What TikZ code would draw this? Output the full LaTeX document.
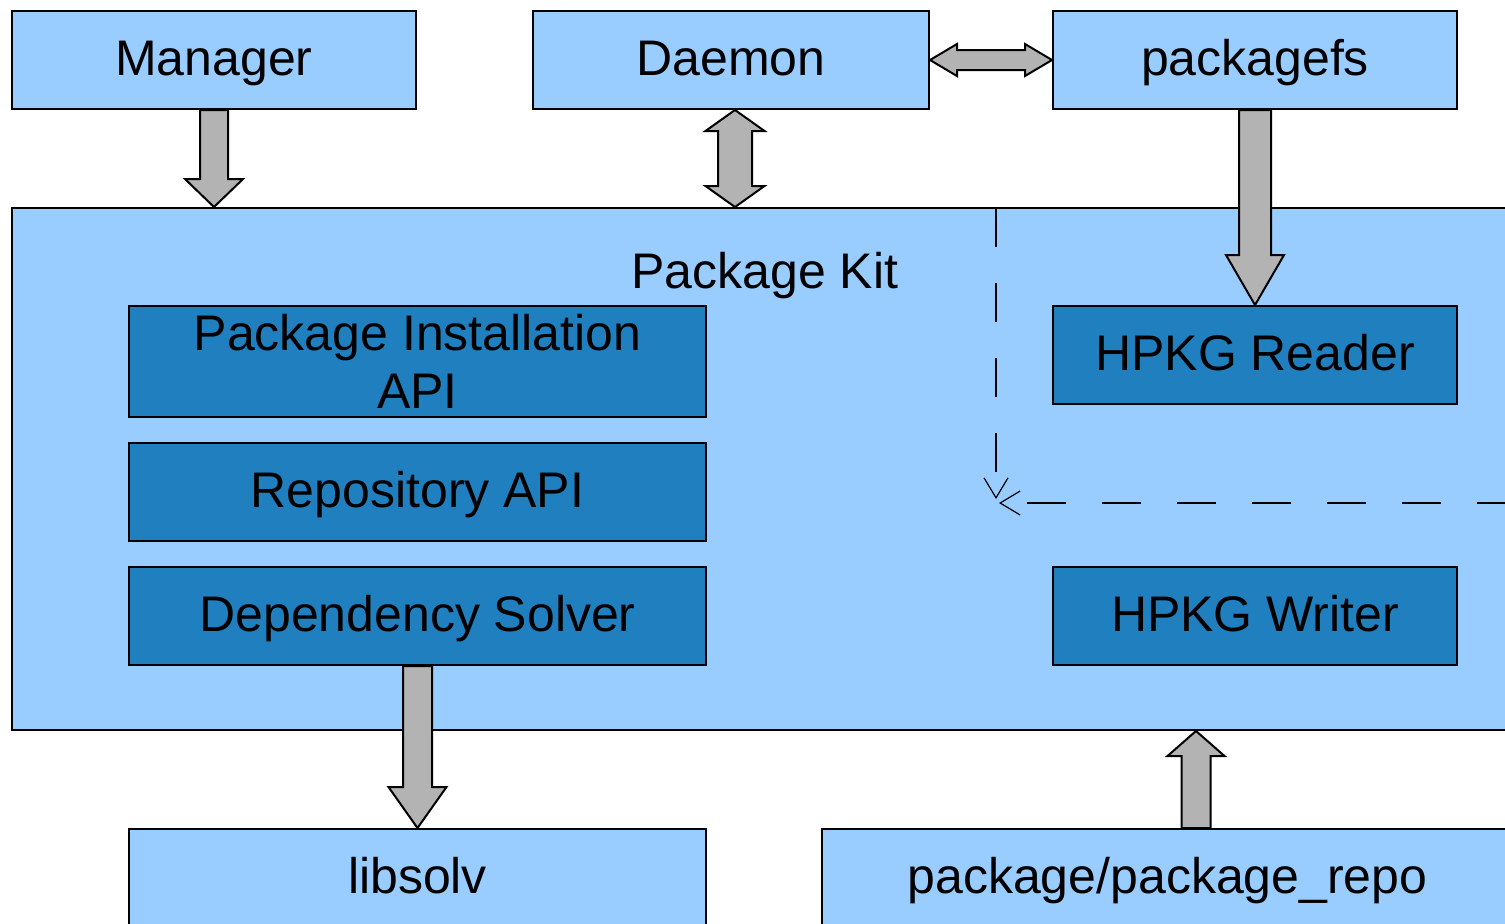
\documentclass[tikz,border=0pt]{standalone}
\usepackage{fontspec}
\setmainfont{Liberation Sans}
\usetikzlibrary{calc,arrows.meta}
\definecolor{lightb}{HTML}{99CCFF}
\definecolor{darkb}{HTML}{1F7FBF}
\definecolor{arrowgray}{HTML}{B3B3B3}
% single block arrow: from, to, shaft half width, head half width, head length
\newcommand\myblockarrow[5]{%
  \coordinate (ba-h) at ($(#2)!#5!(#1)$);
  \draw[blk] ($(#1)!#3!90:(#2)$) -- ($(ba-h)!#3!90:(#2)$) -- ($(ba-h)!#4!90:(#2)$) -- (#2)
    -- ($(ba-h)!#4!-90:(#2)$) -- ($(ba-h)!#3!-90:(#2)$) -- ($(#1)!#3!-90:(#2)$) -- cycle;}
% double block arrow
\newcommand\mydblockarrow[5]{%
  \coordinate (ba-a) at ($(#1)!#5!(#2)$);
  \coordinate (ba-b) at ($(#2)!#5!(#1)$);
  \draw[blk] (#1) -- ($(ba-a)!#4!90:(#2)$) -- ($(ba-a)!#3!90:(#2)$) -- ($(ba-b)!#3!90:(#2)$)
    -- ($(ba-b)!#4!90:(#2)$) -- (#2) -- ($(ba-b)!#4!-90:(#2)$) -- ($(ba-b)!#3!-90:(#2)$)
    -- ($(ba-a)!#3!-90:(#2)$) -- ($(ba-a)!#4!-90:(#2)$) -- cycle;}
\begin{document}
\begin{tikzpicture}[x=0.5pt,y=-0.5pt,
  box/.style={draw=black, line width=1pt, fill=lightb, inner sep=0pt,
    font=\fontsize{25}{28.75}\selectfont, align=center},
  dbox/.style={box, fill=darkb},
  oneline/.style={text height=20pt, text depth=5pt},
  blk/.style={draw=black, line width=1pt, fill=arrowgray, line join=miter},
  dashline/.style={draw=black, line width=1pt, dash pattern=on 19.5pt off 18pt},
  tip/.style={-{Straight Barb[length=10pt,width=12pt,line width=0.6pt]}}
  ]
\useasboundingbox (0,0) rectangle (1505,923);
\clip (0,0) rectangle (1505,923);

% top row
\node[box, oneline, minimum width=202pt, minimum height=49pt] (manager) at (214,60) {Manager};
\node[box, oneline, minimum width=198pt, minimum height=49pt] (daemon) at (731,60) {Daemon};
\node[box, oneline, minimum width=202pt, minimum height=49pt] (packagefs) at (1255,60) {packagefs};

% Package Kit
\node[box, minimum width=753pt, minimum height=261pt] (pk) at (765,469) {};
\node[font=\fontsize{25}{28.75}\selectfont, oneline, inner sep=0pt] (pklabel) at (765,273) {Package Kit};

\node[dbox, minimum width=288.5pt, minimum height=55.5pt] (pia) at (417.5,361.5) {Package Installation\\API};
\node[dbox, oneline, minimum width=288.5pt, minimum height=49pt] (repoapi) at (417.5,492) {Repository API};
\node[dbox, oneline, minimum width=288.5pt, minimum height=49pt] (dep) at (417.5,616) {Dependency Solver};
\node[dbox, oneline, minimum width=202pt, minimum height=49pt] (reader) at (1255,355) {HPKG Reader};
\node[dbox, oneline, minimum width=202pt, minimum height=49pt] (writer) at (1255,616) {HPKG Writer};

% bottom row
\node[box, oneline, minimum width=288.5pt, minimum height=49pt] (libsolv) at (417.5,878) {libsolv};
\node[box, oneline, minimum width=345.5pt, minimum height=49pt] (repo) at (1167.5,878) {package/package\_repo};

% dashed connectors
\coordinate (v1) at (996,208);
\coordinate (v2) at (996,499);
\draw[dashline, tip] (v1) -- (v2);
\coordinate (hr) at (1516,503);
\coordinate (hl) at (999,503);
\draw[dashline, tip] (hr) -- (hl);

% block arrows
\coordinate (m1) at (manager.south);
\coordinate (m2) at (manager.south |- pk.north);
\myblockarrow{m1}{m2}{7pt}{14.5pt}{14pt}

\coordinate (d1) at ([xshift=2pt]daemon.south);
\coordinate (d2) at (d1 |- pk.north);
\mydblockarrow{d1}{d2}{8.5pt}{14.75pt}{10.5pt}

\coordinate (h1) at (daemon.east);
\coordinate (h2) at (packagefs.west);
\mydblockarrow{h1}{h2}{5pt}{8pt}{13.5pt}

\coordinate (p1) at (packagefs.south);
\coordinate (p2) at (reader.north);
\myblockarrow{p1}{p2}{8pt}{14.5pt}{25pt}

\coordinate (s1) at (dep.south);
\coordinate (s2) at (libsolv.north);
\myblockarrow{s1}{s2}{7.25pt}{14.5pt}{20.5pt}

\coordinate (r1) at ([xshift=14.25pt]repo.north);
\coordinate (r2) at (r1 |- pk.south);
\myblockarrow{r1}{r2}{7.25pt}{14.25pt}{12.5pt}
\end{tikzpicture}
\end{document}
